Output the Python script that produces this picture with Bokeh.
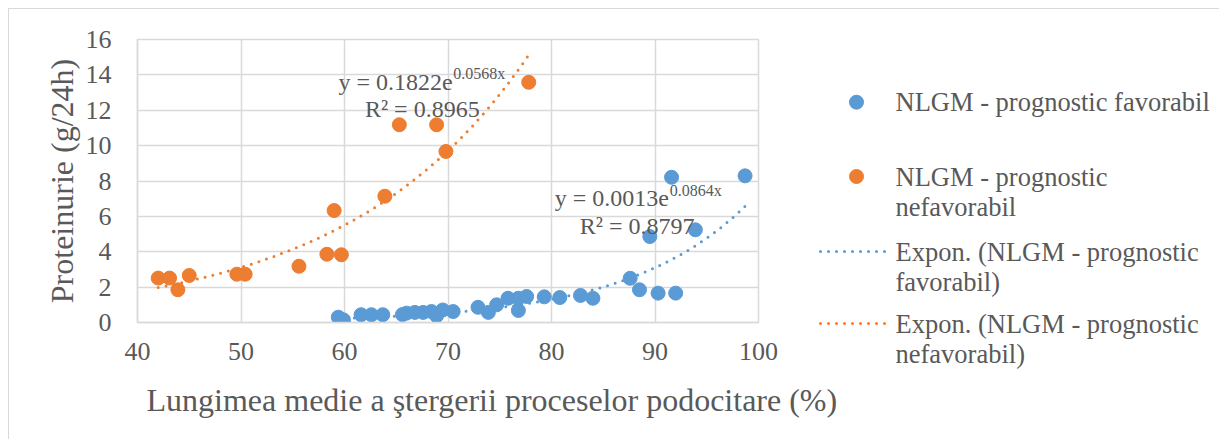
import numpy as np
from bokeh.plotting import figure
from bokeh.models import Range1d, Label
from bokeh.layouts import row, column
from bokeh.core.properties import value
from bokeh.embed import file_html
from bokeh.resources import INLINE

# ---------------- data ----------------
fav_x = [59.4, 59.9, 61.6, 62.6, 63.7, 65.6, 66.0, 66.8, 67.6, 68.4, 68.9, 69.5, 70.5,
         72.9, 73.9, 74.7, 75.8, 76.8, 76.8, 77.6, 79.3, 80.8, 82.8, 84.0,
         87.6, 88.5, 89.5, 90.3, 91.6, 92.0, 93.9, 98.7]
fav_y = [0.30, 0.15, 0.44, 0.44, 0.44, 0.45, 0.53, 0.57, 0.57, 0.62, 0.38, 0.71, 0.62,
         0.86, 0.57, 1.0, 1.37, 1.37, 0.68, 1.47, 1.45, 1.41, 1.53, 1.37,
         2.5, 1.85, 4.86, 1.66, 8.21, 1.66, 5.24, 8.29]

nef_x = [42.0, 43.1, 43.9, 45.0, 49.6, 50.4, 55.6, 58.3, 59.0, 59.7, 63.9, 65.3, 68.9, 69.8, 77.8]
nef_y = [2.51, 2.51, 1.85, 2.66, 2.73, 2.73, 3.18, 3.86, 6.33, 3.83, 7.14, 11.18, 11.18, 9.67, 13.58]

# trendline coefficients as printed on the chart: y = a * exp(b x)
fav_a, fav_b = 0.0013, 0.0864
nef_a, nef_b = 0.1822, 0.0568

eq_fav = ["y = 0.0013e", "0.0864x", "R² = 0.8797"]
eq_nef = ["y = 0.1822e", "0.0568x", "R² = 0.8965"]

x_ticks = [40, 50, 60, 70, 80, 90, 100]
y_ticks = [0, 2, 4, 6, 8, 10, 12, 14, 16]

x_title = "Lungimea medie a  ştergerii proceselor podocitare (%)"
y_title = "Proteinurie (g/24h)"

legend_lines = [["NLGM - prognostic favorabil"],
                ["NLGM - prognostic", "nefavorabil"],
                ["Expon. (NLGM - prognostic", "favorabil)"],
                ["Expon. (NLGM - prognostic", "nefavorabil)"]]

# ---------------- style ----------------
BLUE = "#5B9BD5"
ORANGE = "#ED7D31"
TXT = "#595959"
GRID = "#D9D9D9"
FONT = "Liberation Serif"

H1 = 360           # height of the plot row
HT = 70            # height of the strip holding the x-axis title
W1, LW = 780, 430  # widths of plot and legend panel

p = figure(width=W1, height=H1, x_range=Range1d(40, 100), y_range=Range1d(0, 16),
           output_backend="svg", toolbar_location=None,
           min_border_left=128, min_border_right=31, min_border_top=30, min_border_bottom=H1 - 313)
p.outline_line_color = GRID
p.outline_line_width = 1.5
p.background_fill_color = "white"
p.border_fill_color = "white"

p.xaxis.ticker = x_ticks
p.yaxis.ticker = y_ticks
for ax in (p.xaxis, p.yaxis):
    ax.axis_line_color = GRID
    ax.axis_line_width = 1.5
    ax.major_tick_line_color = None
    ax.minor_tick_line_color = None
    ax.major_label_text_font = FONT
    ax.major_label_text_font_size = "26px"
    ax.major_label_text_color = TXT
p.xaxis.major_label_standoff = 14
p.yaxis.major_label_standoff = 20
p.yaxis.axis_label = y_title
p.yaxis.axis_label_text_font = FONT
p.yaxis.axis_label_text_font_size = "32px"
p.yaxis.axis_label_text_font_style = "normal"
p.yaxis.axis_label_text_color = TXT
p.yaxis.axis_label_standoff = 3

p.grid.grid_line_color = GRID
p.grid.grid_line_width = 1.5

# points
p.scatter(fav_x, fav_y, size=14, color=BLUE)
p.scatter(nef_x, nef_y, size=14, color=ORANGE)

# trendlines
tx_f = np.linspace(min(fav_x), max(fav_x), 200)
tx_n = np.linspace(min(nef_x), max(nef_x), 200)
p.line(tx_f, fav_a * np.exp(fav_b * tx_f), line_color=BLUE, line_width=3,
       line_dash="0 8", line_cap="round")
p.line(tx_n, nef_a * np.exp(nef_b * tx_n), line_color=ORANGE, line_width=3,
       line_dash="0 8", line_cap="round")

# equations
def eq(txts, x0, yb, xs, ys, xr, yr):
    p.add_layout(Label(x=x0, y=yb, text=txts[0], text_font=FONT, text_font_size="24px",
                       text_color=TXT, text_baseline="alphabetic"))
    p.add_layout(Label(x=xs, y=ys, text=txts[1], text_font=FONT, text_font_size="16px",
                       text_color=TXT, text_baseline="alphabetic"))
    p.add_layout(Label(x=xr, y=yr, text=txts[2], text_font=FONT, text_font_size="24px",
                       text_color=TXT, text_baseline="alphabetic"))

eq(eq_nef, 59.42, 13.57, 70.50, 14.06, 61.97, 12.08)
eq(eq_fav, 80.32, 7.03, 91.43, 7.44, 82.74, 5.48)

# ---------------- legend panel (pixel-coordinate figure) ----------------
lg = figure(width=LW, height=H1, x_range=Range1d(0, LW), y_range=Range1d(H1, 0),
            output_backend="svg", toolbar_location=None, x_axis_type=None, y_axis_type=None,
            min_border=0)
if "frame_align" in lg.properties():
    lg.frame_align = False
lg.outline_line_color = None
lg.grid.visible = False

item_y = [92.7, 167, 242, 314]
lg.scatter([67], [item_y[0]], size=14, color=BLUE)
lg.scatter([67], [item_y[1]], size=14, color=ORANGE)
lg.line([31, 96], [item_y[2], item_y[2]], line_color=BLUE, line_width=3, line_dash="0 8", line_cap="round")
lg.line([31, 96], [item_y[3], item_y[3]], line_color=ORANGE, line_width=3, line_dash="0 8", line_cap="round")
tx, ty, tt = [], [], []
for yy, lines in zip(item_y, legend_lines):
    for k, s in enumerate(lines):
        tx.append(106)
        ty.append(yy + 30 * k)
        tt.append(s)
lg.text(x=tx, y=ty, text=tt, text_font=value(FONT), text_font_size="26.5px",
        text_color=TXT, text_baseline="middle", text_align="left")

# ---------------- x-axis title strip ----------------
WT = W1 + LW
tf = figure(width=WT, height=HT, x_range=Range1d(0, WT), y_range=Range1d(HT, 0),
            output_backend="svg", toolbar_location=None, x_axis_type=None, y_axis_type=None,
            min_border=0)
if "frame_align" in tf.properties():
    tf.frame_align = False
tf.outline_line_color = None
tf.grid.visible = False
tf.text(x=[137], y=[30], text=[x_title], text_font=value(FONT), text_font_size="32px",
        text_color=TXT, text_baseline="alphabetic", text_align="left")

layout = column(row(p, lg), tf, margin=(8, 0, 0, 8),
                styles={"border-top": "1px solid #D9D9D9", "border-left": "1px solid #D9D9D9"})

open("out.html", "w").write(file_html(layout, INLINE))
